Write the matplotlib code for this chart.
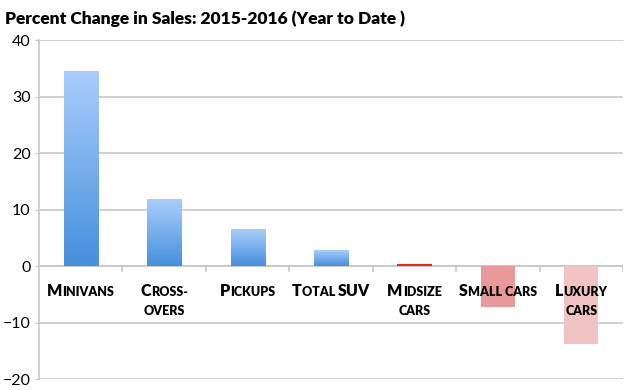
import numpy as np
import matplotlib.pyplot as plt
from matplotlib.colors import LinearSegmentedColormap
from matplotlib.offsetbox import TextArea, HPacker, VPacker, AnnotationBbox

# data
categories = ['Minivans', 'Cross-overs', 'Pickups', 'Total SUV', 'Midsize cars', 'Small cars', 'Luxury cars']
pct_change = [34.5, 11.8, 6.5, 2.8, 0.4, -7.3, -13.8]
# small-caps style labels: each line is a list of (text, big?) pieces
label_parts = [
    [[('M', True), ('INIVANS', False)]],
    [[('C', True), ('ROSS-', False)], [('OVERS', False)]],
    [[('P', True), ('ICKUPS', False)]],
    [[('T', True), ('OTAL ', False), ('SUV', True)]],
    [[('M', True), ('IDSIZE', False)], [('CARS', False)]],
    [[('S', True), ('MALL CARS', False)]],
    [[('L', True), ('UXURY', False)], [('CARS', False)]],
]
bar_colors = [None, None, None, None, '#ff1a1a', '#e89a9a', '#f2c3c3']

font = 'Lato'
fig = plt.figure(figsize=(6.3, 3.9), dpi=100)
ax = fig.add_axes([0.062, 0.028, 0.927, 0.869])

x = np.arange(len(categories))
w = 0.41
blue = LinearSegmentedColormap.from_list('blu', ['#4590dc', '#a9cdfb'])
grad = np.linspace(0, 1, 100).reshape(-1, 1)

for xi, v, c in zip(x, pct_change, bar_colors):
    if c is None:
        ax.imshow(grad, cmap=blue, origin='lower', aspect='auto',
                  extent=[xi - w / 2, xi + w / 2, 0, v], zorder=3)
    else:
        ax.bar(xi, v, width=w, color=c, zorder=3)

ax.set_xlim(-0.5, 6.5)
ax.set_ylim(-20, 40)
ax.set_yticks([-20, -10, 0, 10, 20, 30, 40])
ax.grid(axis='y', color='#c8c8c8', linewidth=1.2, zorder=0)
ax.set_xticks([])
for s in ['top', 'right', 'bottom']:
    ax.spines[s].set_visible(False)
ax.spines['left'].set_color('#c8c8c8')
ax.spines['left'].set_linewidth(1.2)
ax.tick_params(axis='y', length=3, color='#c8c8c8', labelsize=11.5, pad=3)
for t in ax.get_yticklabels():
    t.set_fontfamily(font)

ax.axhline(0, color='#c8c8c8', linewidth=1.2, zorder=2)
# category separators below the zero line
for b in np.arange(0.5, 7, 1.0):
    ax.plot([b, b], [0, -0.8], color='#c8c8c8', linewidth=1.2, zorder=2)

for xi, lines in zip(x, label_parts):
    rows = []
    for line in lines:
        pieces = [TextArea(txt, textprops=dict(size=11.5 if big else 9, weight='heavy',
                                                family=font, color='black'))
                  for txt, big in line]
        rows.append(HPacker(children=pieces, align='baseline', pad=0, sep=0))
    box = VPacker(children=rows, align='center', pad=0, sep=4)
    ab = AnnotationBbox(box, (xi, -3.0), xycoords='data', box_alignment=(0.5, 1),
                        frameon=False, pad=0, zorder=5)
    ax.add_artist(ab)

fig.text(0.008, 0.953, 'Percent Change in Sales: 2015-2016 (Year to Date )',
         fontsize=12.5, weight='heavy', family=font, va='center')

fig.savefig('out.png', dpi=100)
